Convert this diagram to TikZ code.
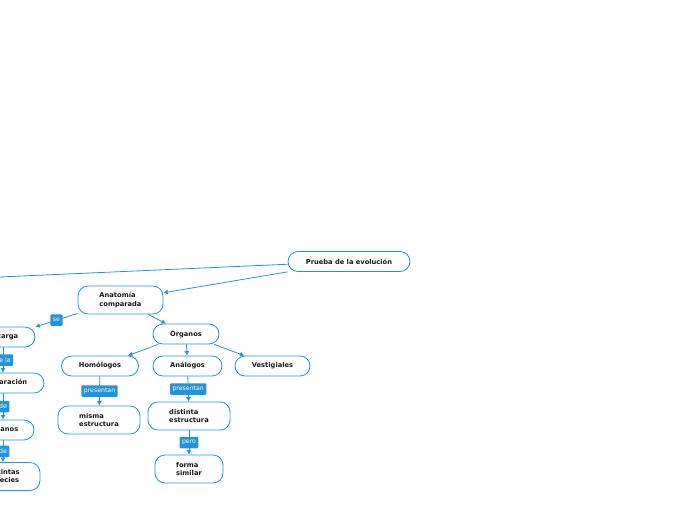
\documentclass[tikz,border=0pt]{standalone}
\usepackage{fontspec}
\setmainfont{DejaVu Sans}
\usepackage{xcolor}
\definecolor{mapblue}{HTML}{2394DC}
\definecolor{mapink}{HTML}{1A1A1A}
\usetikzlibrary{arrows.meta, positioning}
\tikzset{
  mnode/.style ={rectangle, rounded corners=10pt, draw=mapblue, line width=0.8pt, fill=white,
                 text=mapink, align=center, inner sep=2pt, minimum height=20pt,
                 font=\fontsize{6.7}{8.2}\selectfont\bfseries},
  mnode2/.style={mnode, align=left, minimum height=28pt},
  mlbl/.style  ={rectangle, rounded corners=1pt, fill=mapblue, text=white, inner xsep=2.5pt,
                 inner ysep=0pt, minimum height=11.5pt, font=\fontsize{6.2}{7}\selectfont},
  marr/.style  ={-{Latex[length=4.5pt, width=5pt]}, line width=0.8pt, color=mapblue},
}

\begin{document}
\begin{tikzpicture}[x=1pt, y=-1pt]
  \useasboundingbox (0,0) rectangle (696,520);
  \clip (0,0) rectangle (696,520);
  % main branch
  \node[mnode, minimum width=122pt] (prueba) at (349,261.5) {Prueba de la evolución};
  \node[mnode2, minimum width=85pt] (anatomia) at (120.5,300) {Anatomía\\comparada};
  \node[mnode, minimum width=66pt] (organos) at (186,334) {Órganos};
  \node[mnode, minimum width=77pt] (homologos) at (100,366) {Homólogos};
  \node[mnode, minimum width=69pt] (analogos) at (187.5,366) {Análogos};
  \node[mnode, minimum width=75pt] (vestigiales) at (272.5,366) {Vestigiales};
  \node[mnode2, minimum width=82pt] (misma) at (99,420) {misma\\estructura};
  \node[mnode2, minimum width=82pt] (distinta) at (189,416) {distinta\\estructura};
  \node[mnode2, minimum width=68pt] (forma) at (189,469) {forma\\similar};
  % left column (cut by the page edge)
  \node[mnode, minimum width=64pt] (encarga) at (3,337) {encarga};
  \node[mnode, minimum width=82pt] (comparacion) at (3,383) {comparación};
  \node[mnode, minimum width=62pt] (organosb) at (3,430) {órganos};
  \node[mnode2, minimum width=74pt] (especies) at (3,476.5) {distintas\\especies};
  \coordinate (fuera) at (-600,303.6);

  \draw[marr] (prueba) -- (fuera);
  \draw[marr] (prueba) -- (anatomia);
  \draw[marr] (anatomia) -- (encarga) node[mlbl, midway] {se};
  \draw[marr] (anatomia) -- (organos);
  \draw[marr] (organos) -- (homologos);
  \draw[marr] (organos) -- (analogos);
  \draw[marr] (organos) -- (vestigiales);
  \draw[marr] (homologos) -- (misma) node[mlbl, midway] {presentan};
  \draw[marr] (analogos) -- (distinta) node[mlbl, midway] {presentan};
  \draw[marr] (distinta) -- (forma) node[mlbl, midway] {pero};
  \draw[marr] (encarga) -- (comparacion) node[mlbl, midway] {de la};
  \draw[marr] (comparacion) -- (organosb) node[mlbl, midway] {de};
  \draw[marr] (organosb) -- (especies) node[mlbl, midway] {de};
\end{tikzpicture}
\end{document}
